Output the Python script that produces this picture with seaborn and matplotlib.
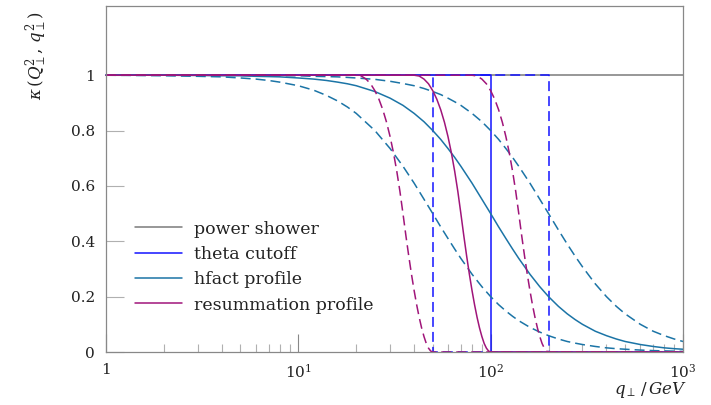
import matplotlib
matplotlib.use("Agg")
import matplotlib.pyplot as plt
import seaborn as sns
import pandas as pd
from matplotlib.ticker import FixedLocator, NullFormatter, LogLocator

# ---------------- data ----------------
power_q = [1, 1000]
power_k = [1, 1]

theta_q_100 = [1, 100, 100, 1000]
theta_q_50 = [1, 50, 50, 1000]
theta_q_200 = [1, 200, 200, 1000]
theta_k = [1, 1, 0, 0]

hfact_q = [1, 2, 3, 4, 5, 6, 7, 8, 10, 12, 14, 16, 18, 20, 25, 30, 35, 40, 45, 50,
           55, 60, 65, 70, 80, 90, 100, 110, 120, 130, 140, 160, 180, 200, 225, 250,
           275, 300, 350, 400, 450, 500, 600, 700, 800, 900, 1000]
hfact_k_100 = [1.000, 1.000, 0.999, 0.998, 0.998, 0.996, 0.995, 0.994, 0.990, 0.986,
               0.981, 0.975, 0.969, 0.962, 0.941, 0.917, 0.891, 0.862, 0.832, 0.800,
               0.768, 0.735, 0.703, 0.671, 0.610, 0.552, 0.500, 0.452, 0.410, 0.372,
               0.338, 0.281, 0.236, 0.200, 0.165, 0.138, 0.117, 0.100, 0.075, 0.059,
               0.047, 0.038, 0.027, 0.020, 0.015, 0.012, 0.010]
hfact_k_50 = [1.000, 0.998, 0.996, 0.994, 0.990, 0.986, 0.981, 0.975, 0.962, 0.946,
              0.927, 0.907, 0.885, 0.862, 0.800, 0.735, 0.671, 0.610, 0.552, 0.500,
              0.452, 0.410, 0.372, 0.338, 0.281, 0.236, 0.200, 0.171, 0.148, 0.129,
              0.113, 0.089, 0.072, 0.059, 0.047, 0.038, 0.032, 0.027, 0.020, 0.015,
              0.012, 0.010, 0.007, 0.005, 0.004, 0.003, 0.002]
hfact_k_200 = [1.000, 1.000, 1.000, 1.000, 0.999, 0.999, 0.999, 0.998, 0.998, 0.996,
               0.995, 0.994, 0.992, 0.990, 0.985, 0.978, 0.970, 0.962, 0.952, 0.941,
               0.930, 0.917, 0.904, 0.891, 0.862, 0.832, 0.800, 0.768, 0.735, 0.703,
               0.671, 0.610, 0.552, 0.500, 0.441, 0.390, 0.346, 0.308, 0.246, 0.200,
               0.165, 0.138, 0.100, 0.075, 0.059, 0.047, 0.038]

resum_q_100 = [1, 40, 42.5, 45, 47.5, 50, 52.5, 55, 57.5, 60, 62.5, 65, 67.5, 70,
               72.5, 75, 77.5, 80, 82.5, 85, 87.5, 90, 92.5, 95, 97.5, 100, 1000]
resum_q_50 = [1, 20, 21.25, 22.5, 23.75, 25, 26.25, 27.5, 28.75, 30, 31.25, 32.5,
              33.75, 35, 36.25, 37.5, 38.75, 40, 41.25, 42.5, 43.75, 45, 46.25, 47.5,
              48.75, 50, 1000]
resum_q_200 = [1, 80, 85, 90, 95, 100, 105, 110, 115, 120, 125, 130, 135, 140, 145,
               150, 155, 160, 165, 170, 175, 180, 185, 190, 195, 200, 1000]
resum_k = [1, 1, 0.997, 0.986, 0.969, 0.944, 0.913, 0.875, 0.830, 0.778, 0.719,
           0.653, 0.580, 0.5, 0.420, 0.347, 0.281, 0.222, 0.170, 0.125, 0.087,
           0.056, 0.031, 0.014, 0.0035, 0, 0]

legend_labels = ["power shower", "theta cutoff", "hfact profile", "resummation profile"]
x_tick_vals = [1, 10, 100, 1000]
x_tick_labels = ["1", "$10^{1}$", "$10^{2}$", "$10^{3}$"]
y_tick_vals = [0, 0.2, 0.4, 0.6, 0.8, 1.0]
y_tick_labels = ["0", "0.2", "0.4", "0.6", "0.8", "1"]

# ---------------- style ----------------
sns.set_theme(style="white")
plt.rcParams["font.family"] = ["DejaVu Serif"]
plt.rcParams["mathtext.fontset"] = "dejavuserif"

c_gray = "#7a7a7a"
c_blue = "#1414ff"
c_teal = "#1b74a6"
c_purple = "#a0157a"
lw = 1.1
dash = (6.5, 3.3)

fig = plt.figure(figsize=(7.11, 4.05), dpi=100)
ax = fig.add_axes([106 / 711, 1 - 352 / 405, 577 / 711, 346 / 405])
ax.set_xscale("log")


def draw(q, k, color, label=None, dashed=False):
    df = pd.DataFrame({"q": q, "k": k})
    n0 = len(ax.lines)
    sns.lineplot(data=df, x="q", y="k", ax=ax, color=color, lw=lw,
                 estimator=None, sort=False, label=label)
    if dashed:
        for ln in ax.lines[n0:]:
            ln.set_dashes(dash)


draw(power_q, power_k, c_gray, legend_labels[0])
draw(theta_q_100, theta_k, c_blue, legend_labels[1])
draw(theta_q_50, theta_k, c_blue, dashed=True)
draw(theta_q_200, theta_k, c_blue, dashed=True)
draw(hfact_q, hfact_k_100, c_teal, legend_labels[2])
draw(hfact_q, hfact_k_50, c_teal, dashed=True)
draw(hfact_q, hfact_k_200, c_teal, dashed=True)
draw(resum_q_100, resum_k, c_purple, legend_labels[3])
draw(resum_q_50, resum_k, c_purple, dashed=True)
draw(resum_q_200, resum_k, c_purple, dashed=True)

for ln in ax.lines:
    ln.set_clip_on(False)

ax.set_xlim(1, 1000)
ax.set_ylim(0, 1.25)

ax.xaxis.set_major_locator(FixedLocator(x_tick_vals))
ax.set_xticklabels(x_tick_labels)
ax.xaxis.set_minor_locator(LogLocator(base=10, subs=range(2, 10)))
ax.xaxis.set_minor_formatter(NullFormatter())
ax.set_yticks(y_tick_vals)
ax.set_yticklabels(y_tick_labels)

ax.tick_params(axis="x", which="both", bottom=True, top=False)
ax.tick_params(axis="y", which="both", left=True, right=False)
ax.tick_params(axis="x", which="major", direction="in", length=13, width=0.8,
               color="#888888", labelsize=11, pad=8, labelcolor="#222222")
ax.tick_params(axis="x", which="minor", direction="in", length=6, width=0.8,
               color="#b0b0b0")
ax.tick_params(axis="y", which="major", direction="in", length=13, width=0.8,
               color="#b0b0b0", labelsize=11, pad=8, labelcolor="#222222")

for s in ax.spines.values():
    s.set_color("#888888")
    s.set_linewidth(0.9)

ax.set_xlabel("")
ax.set_ylabel("")
ax.text(-0.12, 0.855, r"$\kappa\,(Q_\perp^2,\,q_\perp^2)$", transform=ax.transAxes,
        rotation=90, ha="center", va="center", fontsize=12, color="#222222")
ax.text(0.943, -0.11, r"$q_\perp\,/\,GeV$", transform=ax.transAxes,
        ha="center", va="center", fontsize=12, color="#222222")

handles, labels = ax.get_legend_handles_labels()
leg = ax.legend(handles[:4], labels[:4], loc="lower left",
                bbox_to_anchor=(0.0385, 0.091), frameon=False, fontsize=12.5,
                handlelength=2.7, handletextpad=0.7, labelspacing=0.48,
                borderaxespad=0)
for t in leg.get_texts():
    t.set_color("#222222")

fig.savefig("out.png", dpi=100)
